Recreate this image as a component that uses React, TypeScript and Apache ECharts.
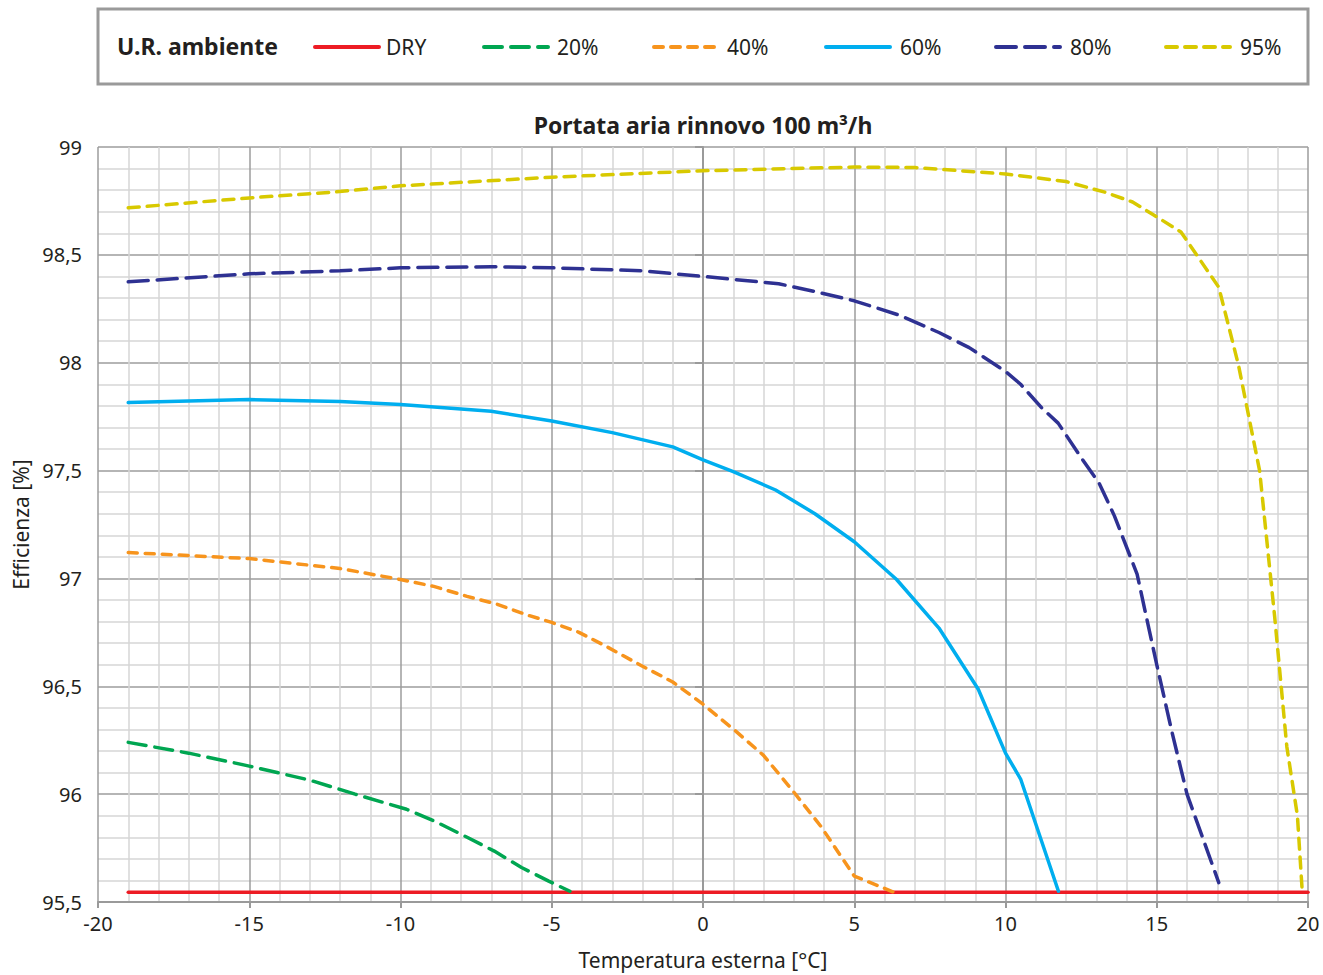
import React, { useEffect, useRef } from "react";
import * as echarts from "echarts";

// ---- data ----
const SERIES_NAMES = ["DRY", "20%", "40%", "60%", "80%", "95%"];
const X_TICKS = [-20, -15, -10, -5, 0, 5, 10, 15, 20];
const Y_TICKS = [95.5, 96, 96.5, 97, 97.5, 98, 98.5, 99];

const dryX = [-19, 20];
const dryY = [95.545, 95.545];

const rh20X = [-19, -17, -15, -13, -11.5, -9.8, -8.8, -7.8, -6.9, -6, -5.1, -4.4];
const rh20Y = [96.24, 96.19, 96.13, 96.065, 96.0, 95.93, 95.87, 95.8, 95.736, 95.66, 95.597, 95.55];

const rh40X = [-19, -15, -12, -10, -8.9, -7.8, -6.8, -5.8, -5, -4.1, -3.2, -2, -1, 0, 1.1, 2, 3, 3.9, 5, 6.3];
const rh40Y = [97.12, 97.092, 97.046, 96.995, 96.963, 96.917, 96.88, 96.83, 96.796, 96.75, 96.685, 96.593, 96.52, 96.417, 96.29, 96.18, 96.01, 95.85, 95.62, 95.546];

const rh60X = [-19, -15, -12, -10, -7, -5, -3, -1, 0, 1, 2.4, 3.7, 5, 6.4, 7.8, 9.1, 10, 10.5, 11.75];
const rh60Y = [97.815, 97.829, 97.82, 97.806, 97.775, 97.73, 97.676, 97.61, 97.55, 97.495, 97.41, 97.3, 97.17, 96.995, 96.77, 96.486, 96.19, 96.07, 95.55];

const rh80X = [-19, -15, -12, -10, -7, -5, -2, 0, 2.5, 3.7, 5, 6.5, 7.8, 8.8, 10, 10.5, 11.2, 11.74, 12.5, 13.1, 13.6, 14.35, 15.0, 15.5, 16.0, 17.05];
const rh80Y = [98.375, 98.412, 98.426, 98.44, 98.445, 98.44, 98.426, 98.4, 98.366, 98.33, 98.287, 98.22, 98.14, 98.07, 97.96, 97.9, 97.79, 97.72, 97.56, 97.44, 97.29, 97.02, 96.6, 96.29, 96.0, 95.59];

const rh95X = [-19, -15, -12.3, -10, -5, 0, 5, 7, 10, 12, 13.3, 14.2, 14.9, 15.8, 17.05, 17.7, 18.4, 18.9, 19.3, 19.65, 19.8];
const rh95Y = [98.718, 98.764, 98.79, 98.82, 98.86, 98.89, 98.907, 98.905, 98.875, 98.84, 98.79, 98.745, 98.685, 98.606, 98.35, 97.99, 97.5, 96.82, 96.22, 95.9, 95.57];

// ---- styles ----
const COLORS = ["#ED1C24", "#00A651", "#F7941D", "#00AEEF", "#2E3192", "#D8C900"];
const DASHES: (number[] | "solid")[] = ["solid", [18, 9], [9, 8], "solid", [20, 9], [11, 8]];
const LEGEND_LINE_X = [313, 482, 652, 824, 994, 1164];
const LEGEND_TEXT_X = [386, 557, 727, 900, 1070, 1240];

const FONT = "'Noto Sans', 'Open Sans', sans-serif";

function pairs(xs: number[], ys: number[]) {
  return xs.map((x, i) => [x, ys[i]]);
}

export default function App() {
  const ref = useRef<HTMLDivElement>(null);

  useEffect(() => {
    if (!ref.current) return;
    const chart = echarts.init(ref.current, undefined, { renderer: "svg" });
    const datasets = [
      pairs(dryX, dryY),
      pairs(rh20X, rh20Y),
      pairs(rh40X, rh40Y),
      pairs(rh60X, rh60Y),
      pairs(rh80X, rh80Y),
      pairs(rh95X, rh95Y),
    ];

    const legendGraphics: any[] = [
      {
        type: "rect",
        shape: { x: 98, y: 9, width: 1210, height: 75 },
        style: { fill: "#fff", stroke: "#9a9a9a", lineWidth: 3 },
      },
      {
        type: "text",
        x: 117,
        y: 46,
        style: {
          text: "U.R. ambiente",
          font: `bold 23px ${FONT}`,
          fill: "#231f20",
          verticalAlign: "middle",
          textAlign: "left",
        },
      },
      {
        type: "text",
        x: 703,
        y: 125,
        style: {
          text: "Portata aria rinnovo 100 m³/h",
          font: `bold 23px ${FONT}`,
          fill: "#231f20",
          verticalAlign: "middle",
          textAlign: "center",
        },
      },
    ];
    SERIES_NAMES.forEach((name, i) => {
      legendGraphics.push({
        type: "line",
        shape: { x1: LEGEND_LINE_X[i] + 2, y1: 47, x2: LEGEND_LINE_X[i] + 66, y2: 47 },
        style: {
          stroke: COLORS[i],
          lineWidth: 4,
          lineCap: "round",
          lineDash: DASHES[i] === "solid" ? null : DASHES[i],
        },
      });
      legendGraphics.push({
        type: "text",
        x: LEGEND_TEXT_X[i],
        y: 47,
        style: {
          text: name,
          font: `21px ${FONT}`,
          fill: "#231f20",
          verticalAlign: "middle",
          textAlign: "left",
        },
      });
    });

    chart.setOption({
      animation: false,
      backgroundColor: "#fff",
      textStyle: { fontFamily: FONT },
      grid: { left: 98, right: 15, top: 147, bottom: 72, containLabel: false },
      graphic: legendGraphics,
      xAxis: {
        type: "value",
        min: X_TICKS[0],
        max: X_TICKS[X_TICKS.length - 1],
        interval: 5,
        name: "Temperatura esterna [°C]",
        nameLocation: "middle",
        nameGap: 47,
        nameTextStyle: { fontSize: 21, color: "#231f20", fontFamily: FONT },
        axisLine: { show: true, onZero: false, lineStyle: { color: "#9a9a9a", width: 2 } },
        axisTick: { show: true, length: 6, lineStyle: { color: "#9a9a9a", width: 2 } },
        axisLabel: { fontSize: 20, color: "#231f20", margin: 11, fontFamily: FONT },
        splitLine: { show: true, lineStyle: { color: "#9c9c9c", width: 1.5 } },
        minorTick: { show: false, splitNumber: 5 },
        minorSplitLine: { show: true, lineStyle: { color: "#d6d6d6", width: 1.5 } },
      },
      yAxis: {
        type: "value",
        min: Y_TICKS[0],
        max: Y_TICKS[Y_TICKS.length - 1],
        interval: 0.5,
        name: "Efficienza [%]",
        nameLocation: "middle",
        nameGap: 64,
        nameTextStyle: { fontSize: 21, color: "#231f20", fontFamily: FONT },
        axisLine: { show: true, lineStyle: { color: "#9a9a9a", width: 2 } },
        axisTick: { show: true, length: 8, lineStyle: { color: "#9a9a9a", width: 2 } },
        axisLabel: {
          fontSize: 20,
          color: "#231f20",
          margin: 16,
          fontFamily: FONT,
          formatter: (v: number) => String(v).replace(".", ","),
        },
        splitLine: { show: true, lineStyle: { color: "#9c9c9c", width: 1.5 } },
        minorTick: { show: false, splitNumber: 5 },
        minorSplitLine: { show: true, lineStyle: { color: "#d6d6d6", width: 1.5 } },
      },
      series: SERIES_NAMES.map((name, i) => ({
        name,
        type: "line",
        data: datasets[i],
        showSymbol: false,
        symbol: "none",
        smooth: false,
        z: i === 0 ? 3 : 4,
        lineStyle: {
          color: COLORS[i],
          width: 3.5,
          type: DASHES[i],
          cap: "round",
        },
      })),
    });

    return () => chart.dispose();
  }, []);

  return (
    <div
      ref={ref}
      style={{ position: "fixed", left: 0, top: 0, width: 1323, height: 975 }}
    />
  );
}
